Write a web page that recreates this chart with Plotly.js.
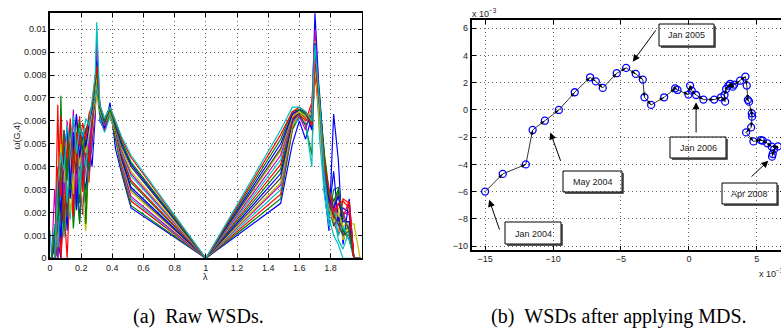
<!DOCTYPE html>
<html>
<head>
<meta charset="utf-8">
<script src="https://cdn.plot.ly/plotly-3.0.1.min.js"></script>
<style>
html,body{margin:0;padding:0;background:#fff;overflow:hidden;width:781px;height:334px;}
#chart{width:800px;height:334px;}
</style>
</head>
<body>
<div id="chart"></div>
<script>
// ---------- Left panel: raw WSDs (one curve per month) ----------
const LAMBDA = [0,0.01,0.03,0.05,0.07,0.09,0.11,0.13,0.15,0.17,0.19,0.21,0.23,0.25,0.27,0.29,0.30,0.32,0.35,0.385,0.42,0.46,0.52,1.0,1.48,1.555,1.6,1.64,1.68,1.70,1.73,1.76,1.79,1.82,1.85,1.88,1.92,1.95,1.99];

const wsd01 = [0,0,0,.0008,0,.0035,.0012,.0048,.0020,.0042,.0016,.0038,.0030,.0049,.0040,.0062,.0092,.0060,.0056,.0068,.0048,.0037,.0022,0,.0024,.0050,.0060,.0052,.0062,.0107,.0068,.0030,.0012,.0063,.0043,.0006,.0026,0,0];
const wsd02 = [0,0,.0004,0,.0071,.0010,.0026,.0040,.0013,.0032,.0015,.0045,.0024,.0041,.0052,.0066,.0085,.0062,.0057,.0064,.0052,.0038,.0023,0,.0026,.0056,.0062,.0058,.0045,.0088,.0072,.0040,.0018,.0030,.0031,.0012,.0008,0,0];
const wsd03 = [0,0,0,.0067,0,.0022,0,.0035,.0018,.0062,.0028,.0036,.0046,.0033,.0058,.0070,.0075,.0064,.0058,.0063,.0054,.0039,.0025,0,.0028,.0057,.0063,.0060,.0068,.0082,.0060,.0035,.0022,.0016,.0010,.0026,.0024,0,0];
const wsd04 = [.0012,0,0,0,.0020,.0009,.0030,.0017,.0038,.0022,.0046,.0030,.0041,.0055,.0047,.0068,.0080,.0061,.0055,.0062,.0055,.0040,.0026,0,.0030,.0058,.0061,.0059,.0040,.0093,.0052,.0028,.0014,.0020,.0008,.0004,.0012,0,0];
const wsd05 = [0,0,.0030,0,.0015,.0056,.0021,.0034,.0065,.0026,.0040,.0019,.0044,.0036,.0050,.0064,.0078,.0063,.0056,.0064,.0056,.0041,.0027,0,.0032,.0059,.0062,.0056,.0066,.0100,.0064,.0042,.0020,.0026,.0014,.0020,.0019,0,0];
const wsd06 = [0,0,0,.0010,.0058,.0025,.0043,.0020,.0032,.0048,.0036,.0025,.0012,.0044,.0056,.0067,.0072,.0062,.0058,.0062,.0055,.0042,.0029,0,.0033,.0058,.0063,.0061,.0064,.0095,.0058,.0036,.0026,.0018,.0022,.0008,.0015,.0015,0];
const wsd07 = [0,0,0,.0005,.0024,.0056,.0018,.0039,.0027,.0050,.0031,.0042,.0048,.0038,.0060,.0069,.0077,.0064,.0057,.0063,.0056,.0043,.0030,0,.0035,.0060,.0063,.0058,.0063,.0086,.0066,.0038,.0024,.0014,.0018,.0011,.0010,0,0];
const wsd08 = [0,0,.0006,.0022,.0009,.0040,.0050,.0026,.0055,.0021,.0047,.0034,.0052,.0045,.0061,.0071,.0080,.0063,.0057,.0065,.0057,.0044,.0031,0,.0037,.0060,.0064,.0062,.0061,.0090,.0070,.0044,.0020,.0038,.0016,.0022,.0020,0,0];
const wsd09 = [0,0,0,.0014,.0035,.0012,.0045,.0030,.0040,.0052,.0024,.0054,.0015,.0048,.0058,.0072,.0085,.0064,.0058,.0064,.0057,.0045,.0033,0,.0039,.0061,.0064,.0063,.0060,.0084,.0069,.0046,.0030,.0022,.0030,.0012,.0014,0,0];
const wsd10 = [0,0,0,.0028,.0062,.0016,.0048,.0058,.0023,.0044,.0062,.0029,.0050,.0042,.0060,.0075,.0082,.0065,.0059,.0064,.0057,.0045,.0034,0,.0041,.0061,.0064,.0061,.0058,.0080,.0066,.0040,.0028,.0017,.0024,.0018,.0025,0,0];
const wsd11 = [0,0,.0015,.0005,.0030,.0045,.0024,.0052,.0035,.0057,.0028,.0049,.0039,.0056,.0062,.0070,.0076,.0064,.0058,.0063,.0057,.0046,.0036,0,.0043,.0062,.0064,.0062,.0057,.0086,.0064,.0034,.0018,.0024,.0010,.0014,.0008,0,0];
const wsd12 = [0,0,0,.0019,.0042,.0028,.0060,.0038,.0048,.0030,.0054,.0040,.0057,.0047,.0063,.0076,.0095,.0066,.0058,.0064,.0058,.0047,.0037,0,.0045,.0062,.0065,.0063,.0059,.0092,.0065,.0036,.0026,.0021,.0028,.0020,.0012,0,0];
const wsd13 = [0,0,0,.0025,.0050,.0033,.0055,.0043,.0028,.0058,.0040,.0051,.0046,.0055,.0064,.0074,.0079,.0065,.0059,.0064,.0058,.0048,.0038,0,.0047,.0062,.0064,.0062,.0058,.0083,.0063,.0040,.0022,.0016,.0020,.0014,.0016,0,0];
const wsd14 = [0,0,.0008,.0031,.0016,.0050,.0036,.0056,.0045,.0038,.0058,.0044,.0053,.0060,.0065,.0077,.0083,.0066,.0059,.0065,.0058,.0049,.0040,0,.0048,.0063,.0065,.0063,.0060,.0088,.0067,.0038,.0024,.0019,.0015,.0010,.0012,0,0];
const wsd15 = [0,0,0,.0036,.0020,.0046,.0057,.0032,.0050,.0063,.0044,.0055,.0049,.0058,.0066,.0078,.0086,.0066,.0060,.0066,.0059,.0050,.0041,0,.0050,.0063,.0065,.0064,.0056,.0094,.0068,.0042,.0026,.0022,.0027,.0016,.0016,0,0];
const wsd16 = [0,0,.0012,.0018,.0039,.0054,.0034,.0059,.0042,.0051,.0060,.0047,.0056,.0061,.0066,.0077,.0081,.0066,.0060,.0065,.0059,.0051,.0042,0,.0052,.0064,.0065,.0063,.0059,.0089,.0065,.0044,.0028,.0025,.0030,.0018,.0012,0,0];
const wsd17 = [0,0,0,.0040,.0027,.0052,.0044,.0061,.0037,.0055,.0049,.0059,.0052,.0063,.0067,.0079,.0084,.0067,.0061,.0066,.0060,.0052,.0044,0,.0054,.0064,.0066,.0064,.0058,.0087,.0066,.0041,.0030,.0020,.0024,.0025,.0022,0,0];
const wsd18 = [0,0,0,.0033,.0046,.0038,.0058,.0050,.0062,.0046,.0057,.0053,.0061,.0058,.0068,.0080,.0103,.0067,.0061,.0066,.0060,.0053,.0045,0,.0056,.0066,.0066,.0064,.0060,.0093,.0068,.0036,.0018,.0010,.0006,0,0,0,0];

const LEFT_XTICKS = [0,0.2,0.4,0.6,0.8,1,1.2,1.4,1.6,1.8];
const LEFT_XTICKTEXT = ['0','0.2','0.4','0.6','0.8','1','1.2','1.4','1.6','1.8'];
const LEFT_YTICKS = [0,0.001,0.002,0.003,0.004,0.005,0.006,0.007,0.008,0.009,0.01];
const LEFT_YTICKTEXT = ['0','0.001','0.002','0.003','0.004','0.005','0.006','0.007','0.008','0.009','0.01'];

// ---------- Right panel: WSDs after MDS (units of 1e-3) ----------
const mdsX = [-15.0,-13.7,-12.0,-11.5,-10.6,-9.57,-8.4,-7.27,-6.85,-6.34,-5.31,-4.62,-3.91,-3.39,-3.27,-2.78,-1.82,-1.01,-0.84,-0.03,0.09,0.21,0.53,1.07,1.86,2.37,2.67,2.62,2.74,2.91,3.23,3.03,3.33,3.77,4.16,4.26,4.34,4.43,4.63,4.65,4.58,4.21,4.75,5.29,5.44,5.78,6.1,6.55,6.27,6.17,6.12];
const mdsY = [-6.0,-4.7,-4.0,-1.47,-0.79,0.0,1.3,2.4,2.1,1.62,2.7,3.09,2.65,2.23,0.93,0.37,0.93,1.59,1.47,1.13,1.79,1.42,1.1,0.76,0.76,0.93,0.61,1.1,1.54,1.79,1.71,1.91,1.86,2.15,2.45,1.79,0.74,0.61,-0.25,-0.49,-1.28,-1.65,-2.31,-2.21,-2.26,-2.45,-2.7,-2.68,-2.9,-3.24,-3.43];

const RIGHT_XTICKS = [-15,-10,-5,0,5];
const RIGHT_XTICKTEXT = ['\u221215','\u221210','\u22125','0','5'];
const RIGHT_YTICKS = [-10,-8,-6,-4,-2,0,2,4,6];
const RIGHT_YTICKTEXT = ['\u221210','\u22128','\u22126','\u22124','\u22122','0','2','4','6'];

const LABELS = ['Jan 2004','May 2004','Jan 2005','Jan 2006','Apr 2008'];
const ARROW_TAIL_X = [-13.9,-9.4,-2.36,0.53,4.5];
const ARROW_TAIL_Y = [-8.9,-3.85,5.96,-1.76,-5.0];
const ARROW_TIP_X = [-14.7,-10.2,-4.13,0.53,5.85];
const ARROW_TIP_Y = [-6.6,-1.65,3.55,0.56,-3.73];

// label box placement (pixels: left, right, top, bottom)
const BOXES = [[505,561,222,244],[563,622,171,192],[659,714,24,46],[670,726,137,158],[722,777,183,204]];

// ---------- build ----------
const W = 800, H = 334;
const px = v => v / W;
const py = v => 1 - v / H;

const COLORS = ['rgb(0,0,255)','rgb(0,128,0)','rgb(255,0,0)','rgb(0,191,191)','rgb(191,0,191)','rgb(191,191,0)','rgb(64,64,64)'];
const CURVES = [wsd01,wsd02,wsd03,wsd04,wsd05,wsd06,wsd07,wsd08,wsd09,wsd10,wsd11,wsd12,wsd13,wsd14,wsd15,wsd16,wsd17,wsd18];

const traces = CURVES.map((c, i) => ({
  type: 'scatter', mode: 'lines', x: LAMBDA, y: c,
  line: {color: COLORS[i % 7], width: 1.2},
  xaxis: 'x', yaxis: 'y', showlegend: false, hoverinfo: 'skip'
}));

traces.push({
  type: 'scatter', mode: 'lines+markers', x: mdsX, y: mdsY,
  line: {color: '#000', width: 0.8},
  marker: {symbol: 'circle-open', size: 7, color: 'rgb(0,0,255)', line: {width: 1.3, color: 'rgb(0,0,255)'}},
  xaxis: 'x2', yaxis: 'y2', showlegend: false, hoverinfo: 'skip'
});
traces.push({
  type: 'scatter', mode: 'markers', x: mdsX, y: mdsY,
  marker: {symbol: 'arrow', size: 5, color: '#000', angleref: 'previous', line: {width: 0}},
  xaxis: 'x2', yaxis: 'y2', showlegend: false, hoverinfo: 'skip'
});

const tickFont = {family: 'Liberation Sans, Arial, Helvetica, sans-serif', size: 9, color: '#222'};
const axisBase = {
  showline: true, linecolor: '#000', linewidth: 1.6, mirror: 'ticks',
  ticks: 'inside', ticklen: 4, tickcolor: '#000', tickwidth: 1,
  showgrid: true, gridcolor: '#666', griddash: '1px,3px', gridwidth: 1,
  zeroline: false, tickfont: tickFont, automargin: false, fixedrange: true,
  tickmode: 'array'
};

const serif = {family: 'Liberation Serif, Times New Roman, serif', size: 20, color: '#000'};
const annotations = [
  {xref: 'paper', yref: 'paper', x: px(17), y: py(135.6), xanchor: 'center', yanchor: 'middle', text: '\u03c9(G,4)', showarrow: false, textangle: -90, font: tickFont},
  {xref: 'paper', yref: 'paper', x: px(205.5), y: py(277), xanchor: 'center', yanchor: 'middle', text: '\u03bb', showarrow: false, font: tickFont},
  {xref: 'paper', yref: 'paper', x: px(470), y: py(13), xanchor: 'left', yanchor: 'middle', text: 'x 10<sup>\u22123</sup>', showarrow: false, font: tickFont},
  {xref: 'paper', yref: 'paper', x: px(757), y: py(273), xanchor: 'left', yanchor: 'middle', text: 'x 10<sup>\u22123</sup>', showarrow: false, font: tickFont},
  {xref: 'paper', yref: 'paper', x: px(198), y: py(316), xanchor: 'center', yanchor: 'middle', text: '(a)\u00a0\u00a0Raw WSDs.', showarrow: false, font: serif},
  {xref: 'paper', yref: 'paper', x: px(618.5), y: py(316), xanchor: 'center', yanchor: 'middle', text: '(b)\u00a0\u00a0WSDs after applying MDS.', showarrow: false, font: serif}
];
const shapes = [];

LABELS.forEach((t, i) => {
  const [bl, br, bt, bb] = BOXES[i];
  shapes.push({type: 'rect', xref: 'paper', yref: 'paper', x0: px(bl), x1: px(br), y0: py(bb), y1: py(bt),
    line: {color: '#000', width: 1}, fillcolor: 'rgba(0,0,0,0)'});
  shapes.push({type: 'path', xref: 'paper', yref: 'paper',
    path: 'M ' + px(bl + 2) + ' ' + py(bb + 1) + ' L ' + px(br + 1) + ' ' + py(bb + 1) + ' L ' + px(br + 1) + ' ' + py(bt + 2),
    line: {color: '#222', width: 1.4}});
  annotations.push({
    xref: 'paper', yref: 'paper', x: px((bl + br) / 2), y: py((bt + bb) / 2 + 0.5), xanchor: 'center', yanchor: 'middle',
    text: t, showarrow: false, font: tickFont
  });
  annotations.push({
    xref: 'x2', yref: 'y2', x: ARROW_TIP_X[i], y: ARROW_TIP_Y[i],
    axref: 'x2', ayref: 'y2', ax: ARROW_TAIL_X[i], ay: ARROW_TAIL_Y[i],
    text: '', showarrow: true, arrowhead: 2, arrowsize: 1.4, arrowwidth: 1, arrowcolor: '#000', standoff: 0
  });
});

const layout = {
  width: W, height: H,
  margin: {l: 0, r: 0, t: 0, b: 0},
  paper_bgcolor: '#fff', plot_bgcolor: '#fff',
  showlegend: false,
  xaxis: Object.assign({}, axisBase, {domain: [px(50), px(361.7)], range: [0, 2.0], tickvals: LEFT_XTICKS, ticktext: LEFT_XTICKTEXT, anchor: 'y'}),
  yaxis: Object.assign({}, axisBase, {domain: [py(258.3), py(13)], range: [0, 0.01071], tickvals: LEFT_YTICKS, ticktext: LEFT_YTICKTEXT, anchor: 'x'}),
  xaxis2: Object.assign({}, axisBase, {domain: [px(471.5), px(784)], range: [-16, 7], tickvals: RIGHT_XTICKS, ticktext: RIGHT_XTICKTEXT, anchor: 'y2'}),
  yaxis2: Object.assign({}, axisBase, {domain: [py(250), py(20)], range: [-10.29, 6.61], tickvals: RIGHT_YTICKS, ticktext: RIGHT_YTICKTEXT, anchor: 'x2'}),
  annotations: annotations,
  shapes: shapes
};

Plotly.newPlot('chart', traces, layout, {staticPlot: true, displayModeBar: false});
</script>
</body>
</html>
